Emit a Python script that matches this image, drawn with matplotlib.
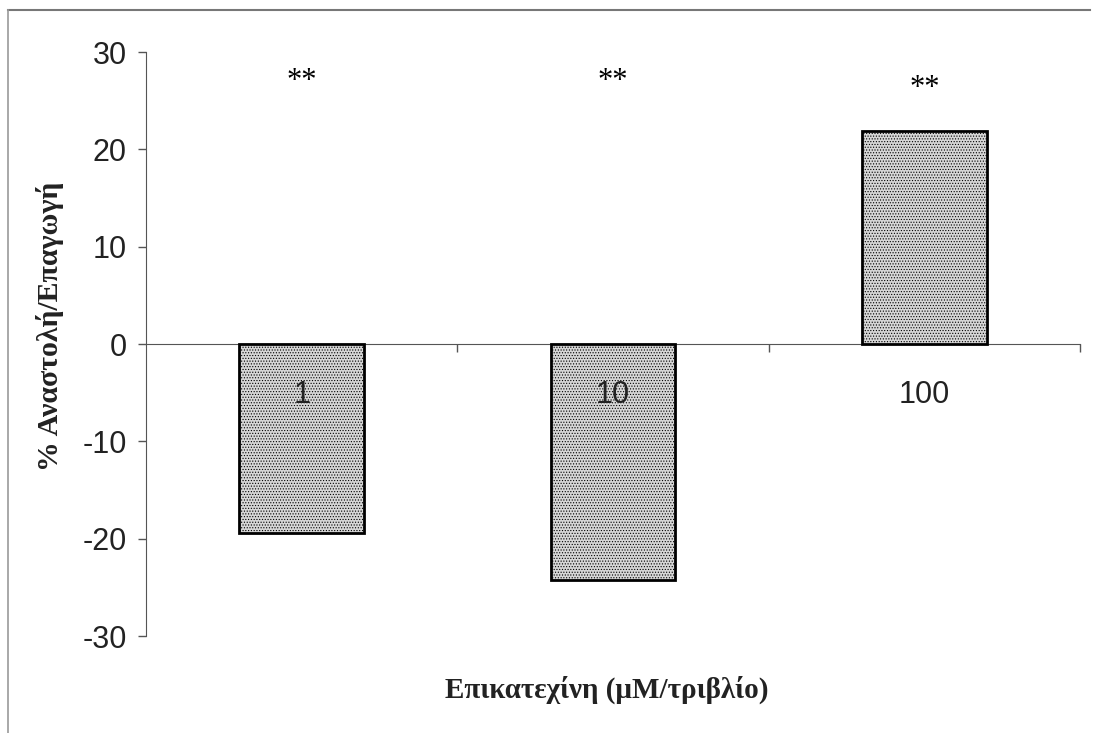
# bar chart: % inhibition/induction vs epicatechin concentration

import matplotlib.pyplot as plt
from matplotlib.lines import Line2D
import numpy as np

concentrations = ["1", "10", "100"]
response = [-19.4, -24.2, 21.9]
significance = ["**", "**", "**"]
sig_level = [27.0, 27.0, 26.3]

plt.rcParams['hatch.color'] = '#8c8c8c'
plt.rcParams['hatch.linewidth'] = 0.5
plt.rcParams['axes.unicode_minus'] = False

fig = plt.figure(figsize=(10.93, 7.33), dpi=100)
ax = fig.add_axes([146 / 1093, 1 - 636 / 733, (1080 - 146) / 1093, (636 - 52) / 733])

x = np.arange(len(concentrations))
ax.bar(x, response, width=0.4, color='#d6d6d6', edgecolor='black',
       linewidth=2, hatch='......', zorder=3)

for xi, s, lvl in zip(x, significance, sig_level):
    ax.text(xi, lvl, s, ha='center', va='center', fontsize=22,
            family='Liberation Serif')

# category labels sit just under the zero line, over the bars
for xi, c in zip(x, concentrations):
    ax.text(xi, -5.2, c, ha='center', va='center', fontsize=22,
            family='Liberation Sans', color='#222222', zorder=5)

ax.set_xlim(-0.5, 2.5)
ax.set_ylim(-30, 30)
ax.set_yticks([-30, -20, -10, 0, 10, 20, 30])
ax.tick_params(axis='y', direction='out', length=6, width=1, color='#555555',
               labelsize=22, pad=8, labelcolor='#222222')
for lbl in ax.get_yticklabels():
    lbl.set_family('Liberation Sans')

ax.set_xticks([0.5, 1.5, 2.5])
ax.set_xticklabels([])
ax.tick_params(axis='x', direction='out', length=6, width=1, color='#555555')

ax.spines['bottom'].set_position(('data', 0))
ax.spines['bottom'].set_color('#555555')
ax.spines['left'].set_color('#555555')
ax.spines['top'].set_visible(False)
ax.spines['right'].set_visible(False)

ax.set_ylabel('% Αναστολή/Επαγωγή', family='Liberation Serif',
              fontweight='bold', fontsize=21.5, color='#222222')
ax.yaxis.set_label_coords(-82 / 934, 0.53)
fig.text(607 / 1093, 1 - 690 / 733, 'Επικατεχίνη (μM/τριβλίο)',
         family='Liberation Serif', fontweight='bold', fontsize=21,
         ha='center', va='center', color='#222222')

# outer frame (top and left edges)
fig.add_artist(Line2D([8 / 1093, 1090 / 1093], [1 - 10 / 733, 1 - 10 / 733],
                      transform=fig.transFigure, color='#777777', lw=1.5))
fig.add_artist(Line2D([8 / 1093, 8 / 1093], [0, 1 - 10 / 733],
                      transform=fig.transFigure, color='#999999', lw=1.2))

fig.savefig('out.png', dpi=100)
